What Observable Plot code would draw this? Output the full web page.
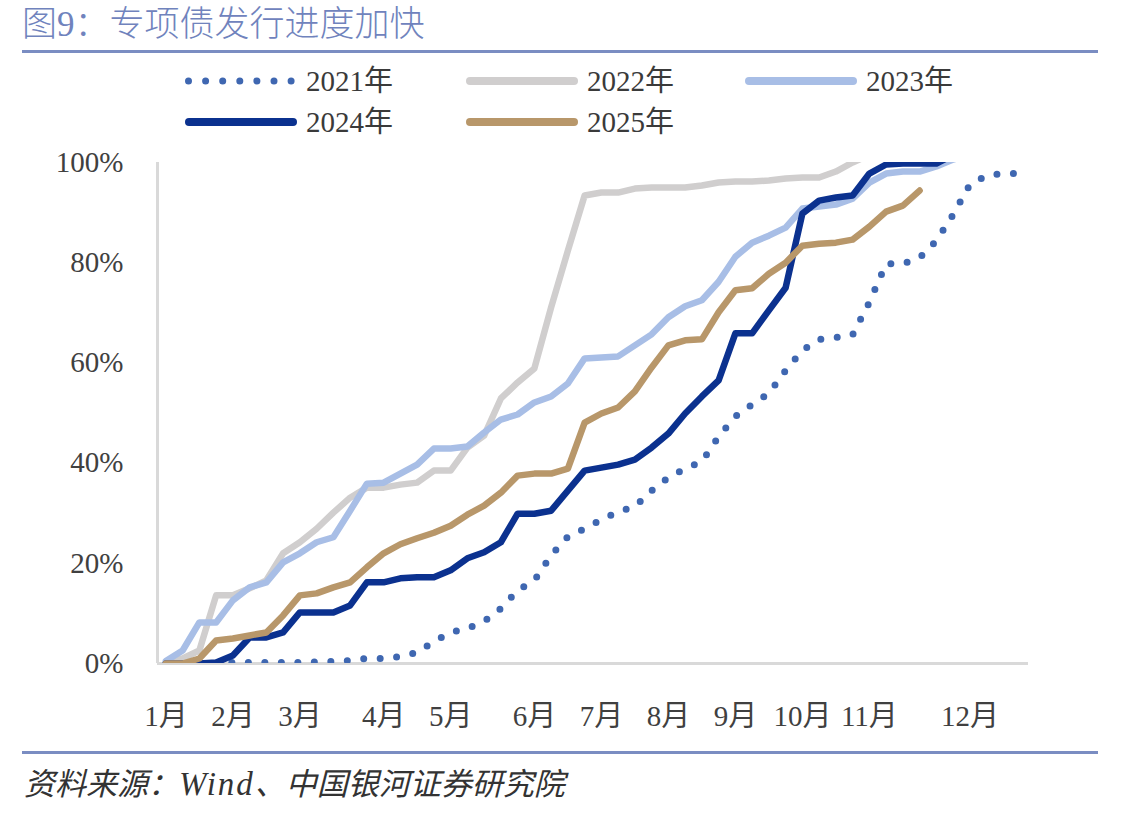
<!DOCTYPE html>
<html><head><meta charset="utf-8">
<script src="https://cdn.jsdelivr.net/npm/d3@7"></script>
<script src="https://cdn.jsdelivr.net/npm/@observablehq/plot@0.6"></script>
<style>
body{margin:0;background:#fff;}
#root{position:relative;width:1146px;height:817px;overflow:hidden;background:#fff;font-family:"Liberation Serif","Noto Sans CJK SC",serif;}
.title{position:absolute;left:22px;top:3px;width:700px;height:44px;font-family:"Liberation Serif","Noto Sans CJK SC",serif;font-weight:300;font-size:35px;color:#7083BD;line-height:44px;white-space:nowrap;}
.rule{position:absolute;left:22px;width:1076px;height:3px;background:#7A8DC2;}
.leg{position:absolute;height:30px;display:flex;align-items:center;}
.leg svg{display:block;}
.leg span{font-size:29px;color:#3a3a3a;margin-left:8px;line-height:30px;white-space:nowrap;}
#chart{position:absolute;left:0;top:140px;}
.source{position:absolute;left:24px;top:764px;width:800px;font-size:31px;font-style:italic;color:#333;white-space:nowrap;line-height:40px;}
.source .en{font-size:33px;letter-spacing:2px;}
</style></head>
<body><div id="root">
<div class="title">图9：专项债发行进度加快</div>
<div class="rule" style="top:50px"></div>
<div id="legend"></div>
<div id="chart"></div>
<div class="rule" style="top:751px"></div>
<div class="source">资料来源：<span class="en">Wind</span>、中国银河证券研究院</div>
</div>
<script>
// ---- data (weekly cumulative issuance progress, %) ----
const seriesNames = ["2021年", "2022年", "2023年", "2024年", "2025年"];
const seriesColors = ["#3F67B1", "#D0CECE", "#A8BEE6", "#0B318F", "#B8976A"];
const monthTickWeeks = [0, 4, 8, 13, 17, 22, 26, 30, 34, 38, 42, 48];
const monthLabels = ["1月","2月","3月","4月","5月","6月","7月","8月","9月","10月","11月","12月"];
const yTicks = [0, 20, 40, 60, 80, 100];

const v2021 = [0,0,0,0,0.2,0.2,0.2,0.2,0.2,0.3,0.4,0.6,1.0,1.0,1.4,2.2,4.4,6.2,7.0,8.4,11.0,14.6,16.6,21.6,25.3,26.9,28.7,30.3,31.3,34.5,37.1,38.9,40.3,45.3,49.3,51.7,53.9,58.5,62.5,64.7,65.1,65.6,72.1,79.8,79.8,81.0,84.4,89.6,95.6,97.4,97.8,97.8];
const v2022 = [0.2,1.0,2.6,13.6,13.6,15.0,16.6,22.0,24.2,26.9,30.1,33.1,35.1,35.1,35.7,36.1,38.5,38.5,43.1,45.5,52.9,56.1,58.9,71.1,82.4,93.4,94.0,94.0,94.8,95.0,95.0,95.0,95.4,96.0,96.2,96.2,96.4,96.8,97.0,97.0,98.2,100.0,101.5];
const v2023 = [0.5,2.6,8.2,8.2,12.6,15.2,16.2,20.2,22.0,24.2,25.2,30.5,35.9,36.1,37.9,39.7,42.9,42.9,43.3,46.1,48.7,49.7,52.1,53.3,55.9,60.9,61.1,61.3,63.5,65.7,69.1,71.3,72.5,76.2,81.2,84.0,85.4,87.0,90.8,91.2,91.6,92.8,96.0,97.8,98.2,98.2,99.2,100.6,101.5];
const v2024 = [0,0,0,0.2,1.6,5.2,5.2,6.2,10.2,10.2,10.2,11.6,16.2,16.2,17.0,17.2,17.2,18.6,21.0,22.2,24.2,29.9,29.9,30.5,34.5,38.5,39.1,39.7,40.7,43.1,45.9,49.9,53.3,56.5,65.9,65.9,70.5,75.0,89.8,92.4,93.0,93.4,97.8,99.6,99.8,99.8,99.8,101.5];
const v2025 = [0,0,1.0,4.6,5.0,5.6,6.2,9.6,13.6,14.0,15.2,16.2,19.2,22.0,23.8,25.0,26.1,27.5,29.7,31.5,34.1,37.5,37.9,37.9,38.9,48.1,49.9,51.1,54.3,59.1,63.5,64.5,64.7,70.1,74.5,74.9,77.8,80.0,83.4,83.8,84.0,84.6,87.2,90.2,91.4,94.4];
const seriesValues = [v2021, v2022, v2023, v2024, v2025];

// ---- legend ----
const legendPos = [[185,66],[466,66],[745,66],[185,107],[466,107]];
const legend = document.getElementById("legend");
seriesNames.forEach((name, k) => {
  const div = document.createElement("div");
  div.className = "leg";
  div.style.left = legendPos[k][0] + "px";
  div.style.top = legendPos[k][1] + "px";
  const dotted = k === 0;
  div.innerHTML = `<svg width="113" height="14"><line x1="${dotted?3.5:4}" x2="${dotted?109:108}" y1="7" y2="7" stroke="${seriesColors[k]}" stroke-width="${dotted?7:8}" stroke-linecap="round" ${dotted?'stroke-dasharray="0,17.1"':''}/></svg><span>${name}</span>`;
  legend.appendChild(div);
});

// ---- chart ----
const rows = [];
seriesValues.forEach((vals, k) => vals.forEach((v, i) => rows.push({series: seriesNames[k], week: i, value: v})));

const lineMarks = seriesNames.map((name, k) => Plot.line(rows.filter(d => d.series === name), {
  x: "week", y: "value", stroke: seriesColors[k],
  strokeWidth: k === 0 ? 7 : 6.5,
  strokeDasharray: k === 0 ? "0,16.5" : null,
  strokeLinecap: "round", strokeLinejoin: "round",
  clip: true
}));

const chart = Plot.plot({
  width: 1146, height: 600,
  marginLeft: 157, marginRight: 118, marginTop: 22, marginBottom: 77,
  x: {type: "linear", domain: [-0.5, 51.5]},
  y: {domain: [0, 100]},
  style: {fontFamily: '"Liberation Serif","Noto Sans CJK SC",serif', fontSize: "29px", color: "#404040", background: "transparent", overflow: "visible"},
  marks: [
    Plot.ruleX([-0.5], {stroke: "#D9D9D9", strokeWidth: 3}),
    Plot.ruleY([0], {stroke: "#D9D9D9", strokeWidth: 3}),
    Plot.axisY({ticks: yTicks, tickFormat: d => d + "%", tickSize: 0, tickPadding: 34, label: null}),
    Plot.axisX({ticks: monthTickWeeks, tickFormat: d => monthLabels[monthTickWeeks.indexOf(d)], tickSize: 0, tickPadding: 42, label: null}),
    ...lineMarks
  ]
});
document.getElementById("chart").appendChild(chart);
</script>
</body></html>
